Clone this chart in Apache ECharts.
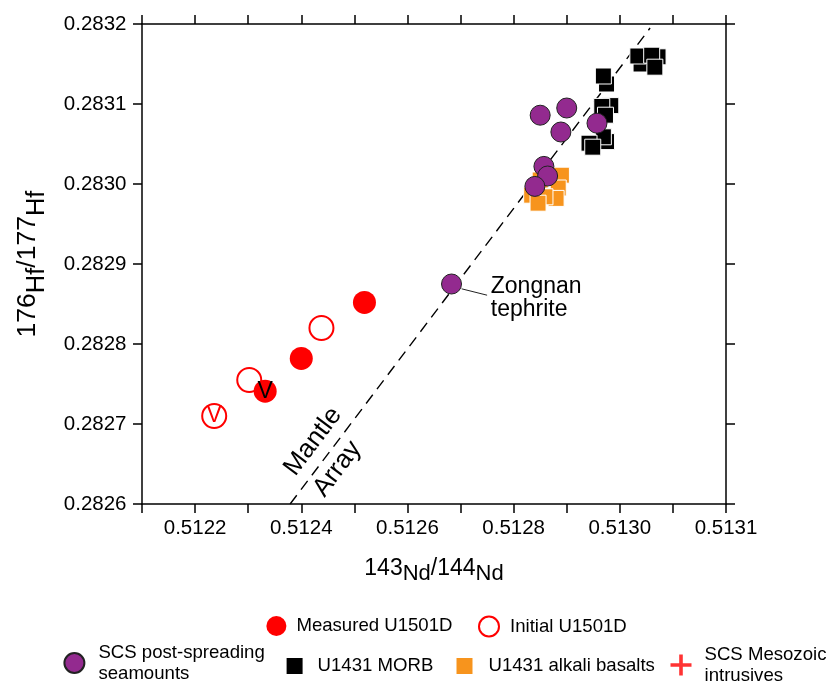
<!DOCTYPE html>
<html><head><meta charset="utf-8">
<script src="https://cdn.jsdelivr.net/npm/echarts@6/dist/echarts.min.js"></script>
<style>html,body{margin:0;padding:0;background:#fff}#c{width:828px;height:683px}</style>
</head><body><div id="c"></div>
<script>
// ---- data ----
const measuredNd = [0.512519, 0.512400, 0.512332];
const measuredHf = [0.282852, 0.282782, 0.282741];
const measuredTag = ['', '', 'V'];

const initialNd = [0.512438, 0.512302, 0.512236];
const initialHf = [0.282820, 0.282755, 0.282710];
const initialTag = ['', '', 'V'];

const seamountNd = [0.512683, 0.512850, 0.512900, 0.512889, 0.512957, 0.512857, 0.512864, 0.512840];
const seamountHf = [0.282875, 0.283086, 0.283095, 0.283065, 0.283076, 0.283022, 0.283010, 0.282997];

const morbNd = [0.513040, 0.513034, 0.513072, 0.513060, 0.513066, 0.512975, 0.512969, 0.512983, 0.512966, 0.512973, 0.512975, 0.512969, 0.512942, 0.512949];
const morbHf = [0.283150, 0.283160, 0.283159, 0.283161, 0.283146, 0.283125, 0.283135, 0.283098, 0.283097, 0.283086, 0.283053, 0.283059, 0.283051, 0.283046];

const alkaliNd = [0.512850, 0.512872, 0.512890, 0.512884, 0.512880, 0.512859, 0.512834, 0.512846];
const alkaliHf = [0.283005, 0.283009, 0.283011, 0.282995, 0.282982, 0.282984, 0.282986, 0.282976];

const mesozoicNd = [];
const mesozoicHf = [];

const mantleArrayNd = [0.512379, 0.513057];
const mantleArrayHf = [0.282600, 0.283195];

const leaderNd = [0.512702, 0.512750];
const leaderHf = [0.282869, 0.282861];

const noteNd = [0.512755, 0.512422, 0.512468];
const noteHf = [0.282857, 0.282678, 0.282644];
const noteText = ['Zongnan\ntephrite', 'Mantle', 'Array'];

const xLabelValues = [0.5122, 0.5124, 0.5126, 0.5128, 0.5130, 0.5132];
const xLabelTexts = ['0.5122', '0.5124', '0.5126', '0.5128', '0.5130', '0.5131'];
const yLabelValues = [0.2826, 0.2827, 0.2828, 0.2829, 0.2830, 0.2831, 0.2832];
const yLabelTexts = ['0.2826', '0.2827', '0.2828', '0.2829', '0.2830', '0.2831', '0.2832'];

const seriesNames = ['Measured U1501D', 'Initial U1501D', 'SCS post-spreading seamounts', 'U1431 MORB', 'U1431 alkali basalts', 'SCS Mesozoic intrusives'];

// ---- helpers ----
const FONT = 'Liberation Sans, Arial, sans-serif';
const zip = (xs, ys) => xs.map((x, i) => [x, ys[i]]);
const lookup = (vals, texts) => v => {
  const i = vals.findIndex(t => Math.abs(t - v) < 1e-8);
  return i < 0 ? '' : texts[i];
};

const xTitleRich = {
  n: { fontSize: 23, lineHeight: 21, verticalAlign: 'top', fontFamily: FONT, color: '#000' },
  s: { fontSize: 22, lineHeight: 28, verticalAlign: 'bottom', fontFamily: FONT, color: '#000' }
};
const yTitleRich = {
  n: { fontSize: 26.5, lineHeight: 24, verticalAlign: 'top', fontFamily: FONT, color: '#000' },
  s: { fontSize: 25.5, lineHeight: 36, verticalAlign: 'bottom', fontFamily: FONT, color: '#000' }
};

const axisCommon = {
  axisLine: { show: true, onZero: false, lineStyle: { color: '#000', width: 1.5 } },
  axisTick: { show: true, inside: false, length: 9, lineStyle: { color: '#000', width: 1.5 } },
  splitLine: { show: false },
  minorTick: { show: false }
};

const chart = echarts.init(document.getElementById('c'), null, { renderer: 'canvas' });

function legendBox(name, left, top, iconW, iconH, padLeft, extra) {
  return Object.assign({
    show: true,
    data: [name],
    left: left, top: top,
    orient: 'horizontal',
    padding: 0,
    itemGap: 0,
    itemWidth: iconW, itemHeight: iconH,
    selectedMode: false,
    textStyle: { fontFamily: FONT, fontSize: 18.6, color: '#000', lineHeight: 21, padding: [0, 0, 0, padLeft] }
  }, extra || {});
}

const noteLabelBase = { show: true, color: '#000', opacity: 1, textBorderWidth: 0, fontSize: 23, fontFamily: FONT, fontWeight: 'normal' };

const option = {
  backgroundColor: '#fff',
  animation: false,
  textStyle: { fontFamily: FONT },
  grid: { left: 142, right: 102, top: 24, bottom: 179, containLabel: false, outerBoundsMode: 'none' },
  xAxis: [
    Object.assign({
      type: 'value', min: 0.5121, max: 0.5132, interval: 0.0001, position: 'bottom',
      name: '{n|143}{s|Nd}{n|/144}{s|Nd}', nameLocation: 'middle', nameGap: 53, nameMoveOverlap: false,
      nameTextStyle: { rich: xTitleRich },
      axisLabel: { show: true, margin: 14, color: '#000', fontSize: 20.5, fontFamily: FONT,
        formatter: lookup(xLabelValues, xLabelTexts), hideOverlap: false }
    }, axisCommon),
    Object.assign({
      type: 'value', min: 0.5121, max: 0.5132, interval: 0.0001, position: 'top',
      axisLabel: { show: false }
    }, axisCommon)
  ],
  yAxis: [
    Object.assign({
      type: 'value', min: 0.2826, max: 0.2832, interval: 0.0001, position: 'left',
      name: '{n|176}{s|Hf}{n|/177}{s|Hf}', nameLocation: 'middle', nameRotate: 90, nameGap: 92, nameMoveOverlap: false,
      nameTextStyle: { rich: yTitleRich },
      axisLabel: { show: true, margin: 15.5, color: '#000', fontSize: 20.5, fontFamily: FONT,
        formatter: lookup(yLabelValues, yLabelTexts), hideOverlap: false }
    }, axisCommon),
    Object.assign({
      type: 'value', min: 0.2826, max: 0.2832, interval: 0.0001, position: 'right',
      axisLabel: { show: false }
    }, axisCommon)
  ],
  legend: [
    legendBox(seriesNames[0], 266.4, 615.5, 20, 20, 5, { icon: 'circle' }),
    legendBox(seriesNames[1], 478, 615.5, 20, 20, 6, { icon: 'circle' }),
    legendBox(seriesNames[2], 63.4, 642, 20, 20, 9, { icon: 'circle',
      formatter: () => 'SCS post-spreading\nseamounts' }),
    legendBox(seriesNames[3], 284.6, 655.5, 18, 18, 9, { icon: 'rect' }),
    legendBox(seriesNames[4], 454.5, 655.5, 18, 18, 10, { icon: 'rect' }),
    legendBox(seriesNames[5], 670.5, 644, 21, 21, 8, {
      icon: 'path://M8.7,0H12.3V8.7H21V12.3H12.3V21H8.7V12.3H0V8.7H8.7Z',
      formatter: () => 'SCS Mesozoic\nintrusives' })
  ],
  series: [
    {
      name: 'Mantle Array', type: 'line', silent: true, z: 1,
      data: zip(mantleArrayNd, mantleArrayHf), symbol: 'none',
      lineStyle: { color: '#000', width: 1.4, type: [11, 7] }
    },
    {
      name: 'leader', type: 'line', silent: true, z: 1,
      data: zip(leaderNd, leaderHf), symbol: 'none',
      lineStyle: { color: '#222', width: 1 }
    },
    {
      name: seriesNames[3], type: 'scatter', symbol: 'rect', symbolSize: 16, z: 2,
      data: zip(morbNd, morbHf),
      itemStyle: { color: '#000', borderColor: '#fff', borderWidth: 1, opacity: 1 }
    },
    {
      name: seriesNames[4], type: 'scatter', symbol: 'rect', symbolSize: 16, z: 2,
      data: zip(alkaliNd, alkaliHf),
      itemStyle: { color: '#F7941D', borderColor: '#fff', borderWidth: 1, opacity: 1 }
    },
    {
      name: seriesNames[2], type: 'scatter', symbol: 'circle', symbolSize: 20, z: 3,
      data: zip(seamountNd, seamountHf),
      itemStyle: { color: '#932A8F', borderColor: '#222', borderWidth: 1, opacity: 1 }
    },
    {
      name: seriesNames[1], type: 'scatter', symbol: 'circle', symbolSize: 24, z: 3,
      data: initialNd.map((x, i) => ({ value: [x, initialHf[i]], name: initialTag[i] })),
      itemStyle: { color: '#fff', borderColor: '#FF0000', borderWidth: 2, opacity: 1 },
      label: { show: true, position: 'inside', formatter: p => p.name, color: '#FF0000', fontSize: 23, fontFamily: FONT }
    },
    {
      name: seriesNames[0], type: 'scatter', symbol: 'circle', symbolSize: 23, z: 4,
      data: measuredNd.map((x, i) => ({ value: [x, measuredHf[i]], name: measuredTag[i] })),
      itemStyle: { color: '#FF0000', opacity: 1 },
      label: { show: true, position: 'inside', formatter: p => p.name, color: '#000', fontSize: 23, fontFamily: FONT }
    },
    {
      name: seriesNames[5], type: 'scatter', symbol: 'circle', symbolSize: 20,
      data: zip(mesozoicNd, mesozoicHf),
      itemStyle: { color: '#FF0000' }
    },
    {
      name: 'notes', type: 'scatter', silent: true, symbol: 'circle', symbolSize: 2, z: 5,
      itemStyle: { color: 'rgba(255,255,255,0)' },
      data: noteNd.map((x, i) => ({
        value: [x, noteHf[i]], name: noteText[i],
        label: i === 0
          ? Object.assign({}, noteLabelBase, { position: 'right', distance: 0, align: 'left', lineHeight: 22.5 })
          : Object.assign({}, noteLabelBase, { position: 'inside', rotate: 53, fontSize: 26 })
      })),
      label: Object.assign({ formatter: p => p.name }, noteLabelBase)
    }
  ]
};
chart.setOption(option);
</script></body></html>
